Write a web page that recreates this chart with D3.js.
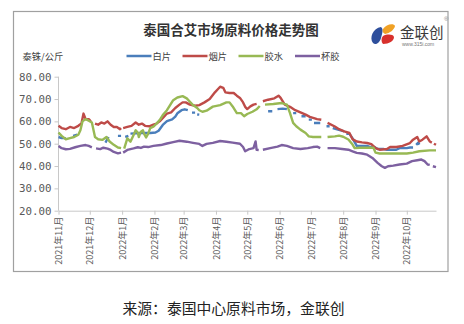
<!DOCTYPE html>
<html><head><meta charset="utf-8">
<script src="https://cdn.jsdelivr.net/npm/d3@7"></script>
<style>
html,body{margin:0;padding:0;background:#fff;}
svg{display:block;}
</style></head>
<body>
<svg id="c" width="464" height="324"></svg>
<script>
const title = "泰国合艾市场原料价格走势图";
const unitLabel = "泰铢/公斤";
const source = "来源：泰国中心原料市场，金联创";
const seriesNames = ["白片","烟片","胶水","杯胶"];
const seriesColors = ["#4a7ebb","#be4b48","#98b954","#7d60a0"];
const yTicks = [20,30,40,50,60,70,80];

const white = [["2021-11-01",53],["2021-11-04",52.5],["2021-11-08",52.5],["2021-11-11",null],["2021-11-15",53.5],["2021-11-19",54],["2021-11-22",null],
["2021-12-16",50.5],["2021-12-19",53],["2021-12-22",null],["2021-12-28",53.5],["2021-12-31",53.5],["2022-01-02",null],["2022-01-04",53],["2022-01-07",53.5],["2022-01-08",null],
["2022-01-09",54.5],["2022-01-19",54.8],["2022-01-28",54.8],["2022-02-02",55],["2022-02-05",55.8],["2022-02-09",58.4],["2022-02-13",60.1],["2022-02-18",60.9],["2022-02-21",62.1],["2022-02-23",63.6],["2022-02-27",65],["2022-03-02",65.4],["2022-03-05",65],["2022-03-07",null],
["2022-03-09",63.9],["2022-03-12",63.9],["2022-03-13",null],["2022-03-14",63.1],["2022-03-16",63],["2022-03-18",null],
["2022-05-21",64.5],["2022-05-25",64.5],["2022-05-27",null],["2022-05-30",65.5],["2022-06-04",65.7],["2022-06-08",65.5],["2022-06-11",null],
["2022-06-14",63.7],["2022-06-17",63.7],["2022-06-19",null],["2022-06-22",62.3],["2022-06-26",62.3],["2022-06-27",null],["2022-06-29",60.8],["2022-07-02",60.8],["2022-07-03",null],
["2022-07-04",59.3],["2022-07-10",59.3],["2022-07-13",null],["2022-07-16",57.8],["2022-07-19",57.8],["2022-07-21",null],["2022-07-22",57],["2022-07-27",56.3],["2022-08-02",55.5],["2022-08-03",null],
["2022-08-04",54.4],["2022-08-07",54.4],["2022-08-10",52.4],["2022-08-14",49],["2022-08-19",49],["2022-08-24",49],["2022-08-27",48.5],["2022-08-31",48.5],["2022-09-03",47.6],["2022-09-09",47.6],["2022-09-12",47.3],["2022-09-21",47.3],["2022-09-24",48],["2022-10-01",48],["2022-10-04",48.3],["2022-10-07",48.3],["2022-10-09",null],
["2022-10-10",49.5],["2022-10-12",50.5],["2022-10-13",49.6]];

const smoked = [["2021-11-01",58],["2021-11-04",57],["2021-11-08",56.5],["2021-11-12",57.5],["2021-11-16",57],["2021-11-20",58],["2021-11-23",59],["2021-11-25",63.5],["2021-11-27",61],["2021-11-30",61],["2021-12-02",60],["2021-12-04",null],
["2021-12-06",59],["2021-12-09",58.5],["2021-12-12",59.5],["2021-12-15",59],["2021-12-18",60],["2021-12-21",58.5],["2021-12-24",57.5],["2021-12-27",57.5],["2021-12-30",56.5],["2021-12-31",57],["2022-01-01",null],
["2022-01-02",57],["2022-01-06",57.5],["2022-01-10",58],["2022-01-14",59.5],["2022-01-17",58.5],["2022-01-20",59],["2022-01-23",58],["2022-01-27",57.8],["2022-01-31",58.5],["2022-02-03",59],["2022-02-06",60],["2022-02-10",62],["2022-02-13",63.5],["2022-02-17",64],["2022-02-21",66],["2022-02-25",67.5],["2022-02-28",68.5],
["2022-03-03",68.5],["2022-03-07",67.5],["2022-03-12",67],["2022-03-16",67.3],["2022-03-21",68.5],["2022-03-26",70],["2022-03-31",73],["2022-04-03",74.5],["2022-04-05",75.5],["2022-04-08",75],["2022-04-10",73],["2022-04-14",72.7],["2022-04-18",72.7],["2022-04-21",71.5],["2022-04-24",70.5],["2022-04-27",68.5],["2022-04-29",66.5],
["2022-05-01",65.5],["2022-05-04",66.7],["2022-05-07",67.5],["2022-05-10",67.8],["2022-05-13",null],["2022-05-16",69],["2022-05-21",69.7],["2022-05-27",70.3],["2022-05-31",71.5],["2022-06-02",70.5],["2022-06-06",67.5],["2022-06-11",66.5],["2022-06-16",65],["2022-06-21",64],["2022-06-26",63],["2022-06-30",62],["2022-07-07",61],["2022-07-11",60.7],["2022-07-14",null],
["2022-07-17",59.3],["2022-07-24",57.7],["2022-07-28",56.5],["2022-08-02",55.5],["2022-08-07",54.8],["2022-08-10",52],["2022-08-12",51.5],["2022-08-14",51],["2022-08-19",50.6],["2022-08-24",50.3],["2022-08-28",49.8],["2022-09-01",48],["2022-09-05",47.3],["2022-09-12",47.6],["2022-09-15",48.5],["2022-09-21",48.5],["2022-09-27",49],
["2022-10-04",50.3],["2022-10-07",51.8],["2022-10-11",53],["2022-10-13",51],["2022-10-16",51.8],["2022-10-20",53.3],["2022-10-23",51],["2022-10-25",50.5],["2022-10-26",null],["2022-10-27",50],["2022-10-29",49.5]];

const latex = [["2021-11-01",55],["2021-11-04",53.5],["2021-11-08",52],["2021-11-12",52.5],["2021-11-16",53],["2021-11-20",54],["2021-11-22",56],["2021-11-24",60],["2021-11-27",61],["2021-11-30",60.3],["2021-12-03",59.5],
["2021-12-06",53],["2021-12-09",52],["2021-12-13",51.7],["2021-12-17",53],["2021-12-20",51],["2021-12-24",49.5],["2021-12-28",48.3],["2021-12-31",48],["2022-01-01",null],
["2022-01-03",47.8],["2022-01-06",52.4],["2022-01-09",50.9],["2022-01-12",53.9],["2022-01-14",56],["2022-01-16",55],["2022-01-17",53],["2022-01-19",55.4],["2022-01-21",56],["2022-01-22",54.5],["2022-01-24",52.8],["2022-01-26",54.5],["2022-01-28",57],["2022-01-31",57.6],
["2022-02-03",59],["2022-02-06",60.6],["2022-02-09",62.8],["2022-02-13",65],["2022-02-16",67.3],["2022-02-19",69.5],["2022-02-23",70.7],["2022-02-28",71.3],["2022-03-04",70.3],["2022-03-07",68.8],["2022-03-10",67.3],["2022-03-14",66],["2022-03-16",65],["2022-03-19",64.3],["2022-03-23",64.8],["2022-03-29",66.6],
["2022-04-05",67.3],["2022-04-11",68.5],["2022-04-14",68.5],["2022-04-17",66.7],["2022-04-21",63.7],["2022-04-25",63.7],["2022-04-28",62.3],["2022-05-01",63.3],["2022-05-06",64.3],["2022-05-10",65.4],["2022-05-13",66.9],["2022-05-15",null],
["2022-05-18",67.5],["2022-05-26",67.8],["2022-06-03",68.2],["2022-06-08",67.5],["2022-06-11",63.7],["2022-06-14",59.3],["2022-06-17",57.8],["2022-06-21",56.3],["2022-06-26",54.8],["2022-06-29",53.3],["2022-07-03",53],["2022-07-11",53],["2022-07-14",null],
["2022-07-17",53],["2022-07-24",53.3],["2022-07-28",53.6],["2022-08-01",53.1],["2022-08-06",51.9],["2022-08-10",49.6],["2022-08-12",48],["2022-08-17",48.2],["2022-08-30",48.2],["2022-09-01",46],["2022-09-05",45.6],["2022-10-01",45.6],["2022-10-07",46],["2022-10-13",46.6],["2022-10-23",47],["2022-10-29",47]];

const cup = [["2021-11-01",49],["2021-11-04",48],["2021-11-08",47.5],["2021-11-12",47.7],["2021-11-17",48.4],["2021-11-22",49],["2021-11-27",49.4],["2021-11-30",49],["2021-12-03",48.4],["2021-12-05",null],
["2021-12-07",47.9],["2021-12-11",47.6],["2021-12-14",48.2],["2021-12-18",47.8],["2021-12-21",47.2],["2021-12-24",46.3],["2021-12-28",45.7],["2021-12-31",46],["2022-01-01",null],
["2022-01-02",46],["2022-01-06",47.2],["2022-01-09",47.6],["2022-01-12",47.9],["2022-01-16",48.4],["2022-01-19",48.1],["2022-01-22",48.7],["2022-01-26",48.5],["2022-01-31",49],["2022-02-07",49.4],["2022-02-13",50.1],["2022-02-19",50.7],["2022-02-25",51.3],
["2022-03-04",50.9],["2022-03-10",50.4],["2022-03-16",49.9],["2022-03-19",49],["2022-03-23",49.9],["2022-03-29",50.4],["2022-04-05",51.2],["2022-04-11",50.9],["2022-04-17",50.5],["2022-04-24",50],["2022-04-27",48.5],["2022-04-29",46.6],
["2022-05-03",47.6],["2022-05-07",48],["2022-05-09",51],["2022-05-10",47.3],["2022-05-12",47.2],["2022-05-14",null],
["2022-05-16",47.3],["2022-05-23",48],["2022-05-30",48.7],["2022-06-03",49.4],["2022-06-08",49],["2022-06-14",48],["2022-06-21",47.6],["2022-06-28",48],["2022-07-03",48.5],["2022-07-07",48.7],["2022-07-10",48],["2022-07-13",null],
["2022-07-17",48],["2022-07-24",48],["2022-07-31",47.6],["2022-08-06",47.3],["2022-08-10",46.6],["2022-08-14",45.9],["2022-08-19",45.6],["2022-08-24",45.1],["2022-08-29",43.6],["2022-09-03",41.4],["2022-09-07",39.9],["2022-09-10",39.2],["2022-09-13",39.9],["2022-09-18",40.2],["2022-09-24",40.7],
["2022-10-01",41.1],["2022-10-06",42.2],["2022-10-11",42.6],["2022-10-15",42.9],["2022-10-18",42.2],["2022-10-21",40.7],["2022-10-23",40.5],["2022-10-24",null],["2022-10-26",39.9],["2022-10-29",39.5]];

const allSeries = [white, smoked, latex, cup];

const svg = d3.select("#c");
const cjk = "'Noto Sans CJK SC','Noto Sans',sans-serif";
svg.append("rect").attr("width",464).attr("height",324).attr("fill","#fff");
// outer frame
svg.append("rect").attr("x",13.5).attr("y",11.5).attr("width",434.5).attr("height",260)
  .attr("fill","none").attr("stroke","#a0a0a0").attr("stroke-width",1.2);

const parse = d3.timeParse("%Y-%m-%d");
const x = d3.scaleTime().domain([parse("2021-11-01"), parse("2022-10-29")]).range([58.5, 436]);
const y = d3.scaleLinear().domain([20,80]).range([210.7, 76.7]);

// title
svg.append("text").attr("x",231).attr("y",35).attr("text-anchor","middle")
  .attr("font-family",cjk).attr("font-weight","bold").attr("font-size",13.5).attr("fill","#333")
  .text(title);

// logo
const logo = svg.append("g");
logo.append("path").attr("d","M381,27 C373,28 369,38 373,43 C376,46 380,42 381,38 C382,34 384,29 381,27 Z").attr("fill","#2e4f9c");
logo.append("path").attr("d","M383,29 C386,24 394,23 395,26 C394,30 390,33 385,34 C383,33 382,31 383,29 Z").attr("fill","#f0a125");
logo.append("path").attr("d","M383,36 C387,34 393,34 394,37 C394,41 389,44 383,44 C381,42 381,38 383,36 Z").attr("fill","#d8302c");
svg.append("text").attr("x",400).attr("y",38).attr("font-family",cjk).attr("font-size",14.5).attr("fill","#3a3a3a").text("金联创");
svg.append("text").attr("x",402).attr("y",45.5).attr("font-family","Arial,'Liberation Sans',sans-serif").attr("font-size",5).attr("fill","#777").text("www.315i.com");
svg.append("text").attr("x",444).attr("y",21).attr("font-family","Arial,'Liberation Sans',sans-serif").attr("font-size",6).attr("fill","#888").text("®");

// unit
svg.append("text").attr("x",22.5).attr("y",59.5).attr("font-family",cjk).attr("font-size",9.3).attr("fill","#404040").text(unitLabel);

// legend
const legX = [126.5, 182.5, 238.5, 295];
seriesNames.forEach((n,i)=>{
  const g = svg.append("g");
  g.append("line").attr("x1",legX[i]).attr("x2",legX[i]+25).attr("y1",56).attr("y2",56)
    .attr("stroke",seriesColors[i]).attr("stroke-width",2.5);
  g.append("text").attr("x",legX[i]+26).attr("y",59.5).attr("font-family",cjk).attr("font-size",9.3).attr("fill","#404040").text(n);
});

// y axis
const yAxis = d3.axisLeft(y).tickValues(yTicks).tickFormat(d3.format(".2f")).tickSize(4).tickPadding(3);
const gy = svg.append("g").attr("transform","translate(58.5,0)").call(yAxis);
gy.select(".domain").attr("stroke","#c8c8c8").attr("d","M0,76.7V210.7");
gy.selectAll(".tick line").attr("stroke","#c8c8c8");
gy.selectAll(".tick text").attr("font-family","'DejaVu Sans Mono',monospace").attr("font-size",10.8).attr("fill","#595959");

// x axis
const monthTicks = d3.timeMonth.range(parse("2021-11-01"), parse("2022-10-02"));
const xAxis = d3.axisBottom(x).tickValues(monthTicks).tickFormat(d3.timeFormat("%Y年%-m月")).tickSize(4).tickSizeOuter(0);
const gx = svg.append("g").attr("transform","translate(0,210.7)").call(xAxis);
gx.select(".domain").attr("stroke","#c8c8c8");
gx.selectAll(".tick line").attr("stroke","#c8c8c8");
gx.selectAll(".tick text").attr("font-family",cjk).attr("font-size",9).attr("fill","#595959")
  .attr("transform","rotate(-90)").attr("text-anchor","end").attr("x",-6).attr("y",0).attr("dy","0.35em");

// lines
const line = d3.line().defined(d=>d[1]!=null).x(d=>x(parse(d[0]))).y(d=>y(d[1]));
allSeries.forEach((s,i)=>{
  svg.append("path").datum(s).attr("d",line).attr("fill","none")
    .attr("stroke",seriesColors[i]).attr("stroke-width",2.4).attr("stroke-linejoin","round").attr("stroke-linecap","butt");
});

// source
svg.append("text").attr("x",233.5).attr("y",313.5).attr("text-anchor","middle")
  .attr("font-family",cjk).attr("font-size",14.8).attr("fill","#222").text(source);
</script>
</body></html>
